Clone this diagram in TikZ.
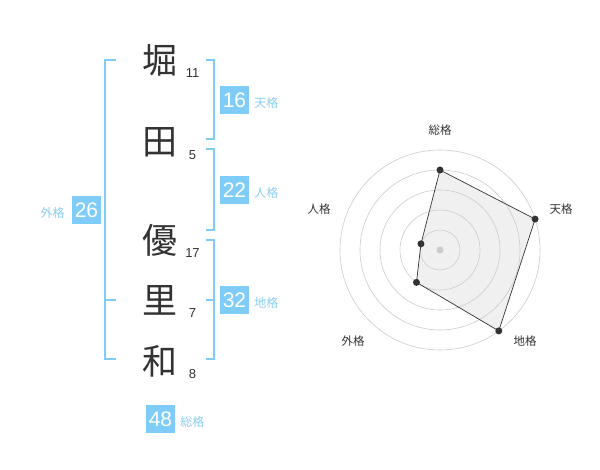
\documentclass[tikz,border=0pt]{standalone}
\usepackage{fontspec}
\setmainfont{Liberation Sans}
\newfontfamily\jfont{Noto Sans CJK JP}
\usetikzlibrary{positioning}
\definecolor{lblue}{HTML}{80CCF8}
\definecolor{ltext}{HTML}{8ACFF5}
\definecolor{ink}{HTML}{333333}
\tikzset{
  kanji/.style={font=\jfont\fontsize{35}{35}\selectfont, text=ink, inner sep=0pt},
  strokes/.style={font=\fontsize{13}{13}\selectfont, text=ink, inner sep=0pt},
  scorebox/.style={fill=lblue, text=white, minimum width=29pt, minimum height=28pt, inner sep=0pt, font=\fontsize{21}{21}\selectfont},
  kaku/.style={font=\jfont\fontsize{12}{12}\selectfont, text=ltext, inner sep=0pt},
  bracket/.style={draw=lblue, line width=1.6pt},
  ring/.style={draw=black!20, line width=0.6pt},
  axislabel/.style={font=\jfont\fontsize{11.5}{11.5}\selectfont, text=ink, inner sep=0pt},
  dot/.style={circle, fill=ink, inner sep=0pt, minimum size=7pt},
}
\begin{document}
\begin{tikzpicture}[x=1pt,y=-1pt]
\useasboundingbox (0,0) rectangle (600,470);
\fill[white] (0,0) rectangle (600,470);
% name and stroke counts
\foreach \ch/\y/\n [count=\i] in {堀/60/11, 田/142/5, 優/240/17, 里/300/7, 和/361/8} {
  \node[kanji] (k\i) at (160,\y) {\ch};
  \node[strokes] (n\i) at (192.5,\y+13) {\n};
}
% brackets
\draw[bracket] (116,60) -- (105,60) -- (105,359) -- (116,359);
\draw[bracket] (105,300) -- (116,300);
\draw[bracket] (206,60) -- (214,60) -- (214,139) -- (206,139);
\draw[bracket] (206,149) -- (214,149) -- (214,230) -- (206,230);
\draw[bracket] (206,240) -- (214,240) -- (214,359) -- (206,359);
\draw[bracket] (206,300) -- (214,300);
% scores
\node[scorebox] (ten) at (234.5,100) {16};
\node[scorebox] (jin) at (234.5,190) {22};
\node[scorebox] (chi) at (234.5,300) {32};
\node[scorebox] (gai) at (86.5,210) {26};
\node[scorebox] (sou) at (160.5,419) {48};
\node[kaku, right=5pt of ten, yshift=-3pt] (tenl) {天格};
\node[kaku, right=5pt of jin, yshift=-3pt] (jinl) {人格};
\node[kaku, right=5pt of chi, yshift=-3pt] (chil) {地格};
\node[kaku, left=7pt of gai, yshift=-3pt] (gail) {外格};
\node[kaku, right=5pt of sou, yshift=-3pt] (soul) {総格};
\begin{scope}[shift={(440,250)}, yscale=-1]   % start of radar scope
\coordinate (pS) at (90:80);
\coordinate (pT) at (18:100);
\coordinate (pC) at (-54:100);
\coordinate (pG) at (-126:40);
\coordinate (pJ) at (162:20);
\fill[black!6] (pS) -- (pT) -- (pC) -- (pG) -- (pJ) -- cycle;
\foreach \r in {20,40,...,100}
  \draw[ring] (0,0) circle (\r pt);
\fill[black!20] (0,0) circle (3.5pt);
\draw[draw=ink, line width=0.7pt] (pS) -- (pT) -- (pC) -- (pG) -- (pJ) -- cycle;
\foreach \p in {pS,pT,pC,pG,pJ}
  \node[dot] (d\p) at (\p) {};
\node[axislabel] (aS) at (0,120) {総格};
\node[axislabel] (aT) at (121,41) {天格};
\node[axislabel] (aC) at (85,-91) {地格};
\node[axislabel] (aG) at (-87,-91) {外格};
\node[axislabel] (aJ) at (-121,41) {人格};
\end{scope}                                   % end of radar scope
\end{tikzpicture}
\end{document}
